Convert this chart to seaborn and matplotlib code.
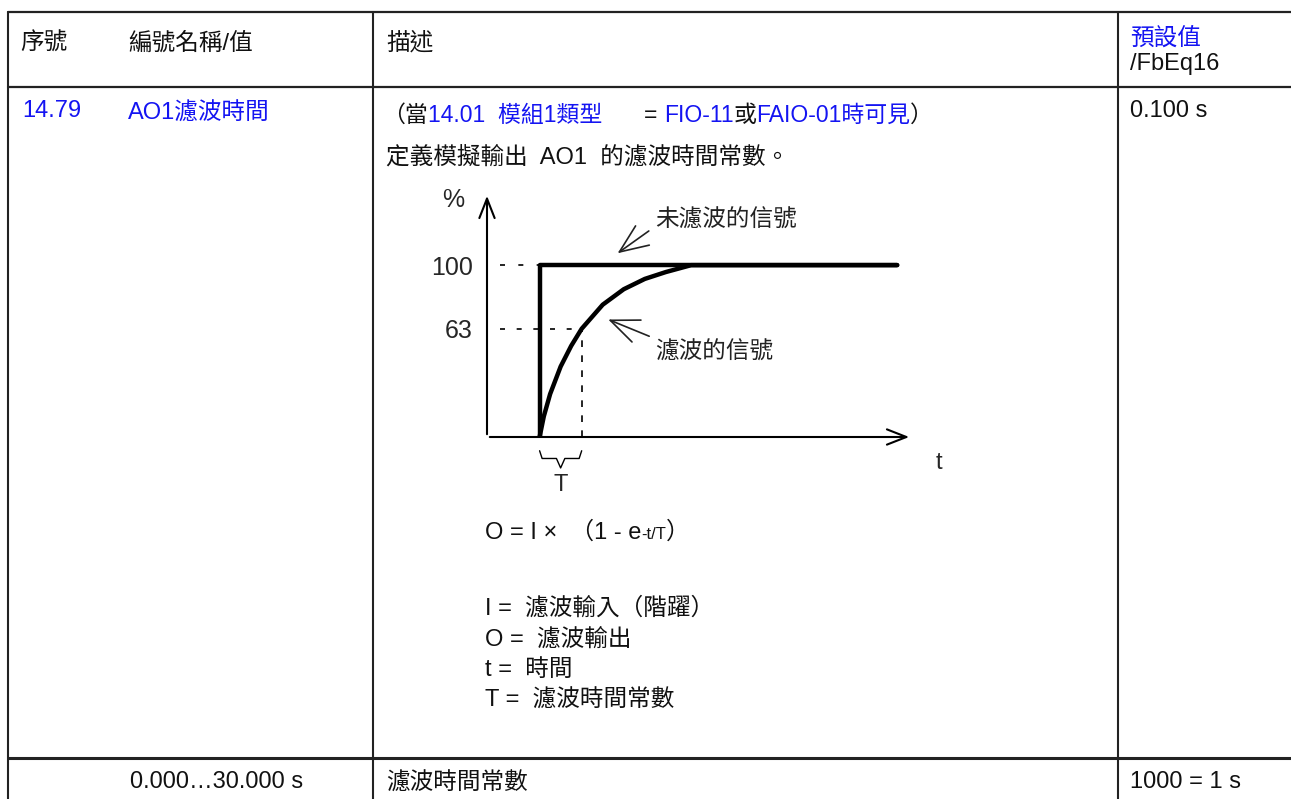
import matplotlib
matplotlib.use("Agg")
import pandas as pd
import matplotlib.pyplot as plt
import seaborn as sns

# --- datos del gráfico (t en unidades de T, señal en %) ---
t_sin_filtro = [0, 0, 8.5]
v_sin_filtro = [0, 100, 100]
t_filtro = [0, 0.1, 0.25, 0.5, 0.75, 1, 1.5, 2, 2.5, 3, 3.6, 8.5]
v_filtro = [0, 12, 25, 41, 53, 63, 77, 86, 92, 96, 100, 100]
y_ticks = [63, 100]
y_labels = ["63", "100"]

# --- textos de la tabla ---
cabecera = ["序號", "編號名稱/值", "描述"]
num_param = "14.79"
nombre_param = "AO1濾波時間"
defecto = "0.100 s"
leyenda = ["I =  濾波輸入（階躍）", "O =  濾波輸出", "t =  時間", "T =  濾波時間常數"]
fila_final = ["0.000…30.000 s", "濾波時間常數", "1000 = 1 s"]

FAM = ["Liberation Sans", "Noto Sans CJK TC"]
AZUL = "#1414f2"
NEGRO = "#111111"
W, H = 1291, 799

sns.set_style("white")
plt.rcParams["font.family"] = FAM

fig = plt.figure(figsize=(W / 100, H / 100), dpi=100)
ax = fig.add_axes([0, 0, 1, 1])
ax.set_xlim(0, W)
ax.set_ylim(H, 0)
ax.axis("off")
rend = fig.canvas.get_renderer()


def texto(x, y, partes, size=17):
    # escribe trozos de texto de colores seguidos en la misma línea
    for s, c in partes:
        t = ax.text(x, y, s, color=c, fontsize=size, va="baseline", family=FAM)
        x += t.get_window_extent(renderer=rend).width
    return x


# líneas de la tabla
lc = "#222222"
for y, lw in [(12, 1.6), (87, 1.6), (758, 2.2)]:
    ax.plot([8, W], [y, y], color=lc, lw=lw)
for x in [8, 373, 1118]:
    ax.plot([x, x], [12, H], color=lc, lw=1.5)

# cabecera
texto(20, 50, [(cabecera[0], NEGRO)])
texto(128, 50, [(cabecera[1], NEGRO)])
texto(386, 50, [(cabecera[2], NEGRO)])
texto(1130, 46, [("預設值", AZUL)])
texto(1130, 70, [("/FbEq16", NEGRO)])

# fila del parámetro
texto(22, 117, [(num_param, AZUL)])
texto(128, 120, [(nombre_param, AZUL)])
texto(1130, 117, [(defecto, NEGRO)])
x = texto(382, 122, [("（當", NEGRO), ("14.01  模組1類型", AZUL)], size=16.5)
texto(x + 42, 122, [("= ", NEGRO), ("FIO-11", AZUL), ("或", NEGRO),
                    ("FAIO-01時可見", AZUL), ("）", NEGRO)], size=16.5)
texto(386, 164, [("定義模擬輸出  AO1  的濾波時間常數。", NEGRO)])

# fórmula
x = texto(485, 539, [("O = I ×  （1 - e", NEGRO)])
x = texto(x, 539, [("-t/T", NEGRO)], size=12)
texto(x, 539, [("）", NEGRO)])
for i, s in enumerate(leyenda):
    texto(485, 615 + i * 30.5, [(s, NEGRO)])

# última fila
texto(130, 788, [(fila_final[0], NEGRO)])
texto(386, 790, [(fila_final[1], NEGRO)])
texto(1130, 788, [(fila_final[2], NEGRO)])

# --- gráfico de respuesta ---
x0, x1, y0, y1 = -1.25, 8.85, 0, 142
ax2 = fig.add_axes([487 / W, 1 - 437 / H, (912 - 487) / W, (437 - 193) / H])
ax2.set_xlim(x0, x1)
ax2.set_ylim(y0, y1)
ax2.patch.set_alpha(0)
for s in ax2.spines.values():
    s.set_visible(False)

df1 = pd.DataFrame({"t": t_sin_filtro, "v": v_sin_filtro})
df2 = pd.DataFrame({"t": t_filtro, "v": v_filtro})
sns.lineplot(data=df1, x="t", y="v", estimator=None, sort=False, color="black", lw=3.2, ax=ax2)
sns.lineplot(data=df2, x="t", y="v", estimator=None, sort=False, color="black", lw=3.2, ax=ax2)

ax2.set_xticks([])
ax2.set_yticks(y_ticks)
ax2.set_yticklabels(y_labels, fontsize=18)
ax2.tick_params(axis="y", length=0, pad=10)
ax2.set_xlabel("")
ax2.set_ylabel("")

flecha = dict(arrowstyle="->, head_length=1.4, head_width=0.55", lw=1.5, color="black")
ax2.annotate("", xy=(x1, 0), xytext=(x0, 0), arrowprops=flecha, annotation_clip=False)
ax2.annotate("", xy=(x0, y1), xytext=(x0, 0), arrowprops=flecha, annotation_clip=False)

# guías discontinuas
ax2.hlines(100, -0.95, 0, color="black", lw=1.2, linestyles=[(0, (3, 8))])
ax2.hlines(63, -0.95, 1, color="black", lw=1.2, linestyles=[(0, (3, 7))])
ax2.vlines(1, 0, 63, color="black", lw=1.2, linestyles=[(0, (4, 5))])

# llave T
ax2.plot([0, 0.06, 0.4, 0.5, 0.6, 0.94, 1], [-8, -12.5, -12.5, -18, -12.5, -12.5, -8],
         color="black", lw=1, clip_on=False)
ax2.text(0.5, -28, "T", fontsize=17, ha="center", va="center")
ax2.text(9.5, -15, "t", fontsize=17, ha="center", va="center", clip_on=False)
ax2.text(-2.05, 138, "%", fontsize=18, ha="center", va="center")

# etiquetas con flecha
flecha2 = dict(arrowstyle="->, head_length=1.2, head_width=0.5", lw=1.2, color="#222222")
ax2.annotate("未濾波的信號", xy=(1.8, 106), xytext=(2.75, 126), fontsize=17,
             va="center", ha="left", arrowprops=dict(flecha2, relpos=(-0.03, 0.1)),
             annotation_clip=False, color="#222222")
ax2.annotate("濾波的信號", xy=(1.57, 69), xytext=(2.75, 49), fontsize=17,
             va="center", ha="left", arrowprops=dict(flecha2, relpos=(-0.03, 1.2)),
             annotation_clip=False, color="#222222")

fig.savefig("out.png", dpi=100)
